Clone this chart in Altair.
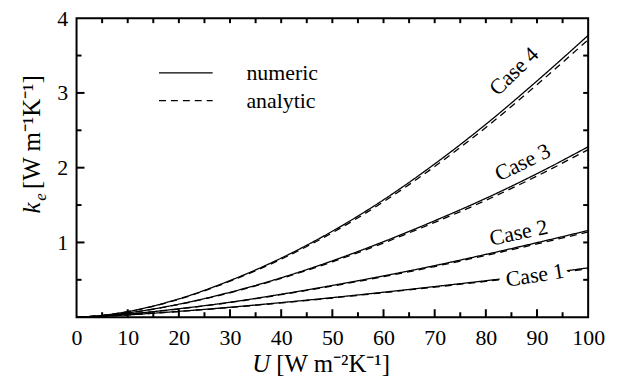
import altair as alt
import pandas as pd

FONT = "'Liberation Serif', 'Times New Roman', Times, serif"
W, H = 515, 301

# ---- data ----
u_values = [0, 5, 10, 20, 30, 40, 50, 60, 70, 80, 90, 100]
case_names = ["Case 1", "Case 2", "Case 3", "Case 4"]

numeric_case1 = [0, 0.012, 0.031, 0.078, 0.133, 0.195, 0.262, 0.334, 0.410, 0.488, 0.570, 0.660]
numeric_case2 = [0, 0.015, 0.041, 0.113, 0.200, 0.307, 0.425, 0.552, 0.690, 0.840, 0.997, 1.160]
numeric_case3 = [0, 0.020, 0.057, 0.174, 0.333, 0.527, 0.754, 1.010, 1.290, 1.590, 1.920, 2.280]
numeric_case4 = [0, 0.023, 0.075, 0.245, 0.490, 0.790, 1.150, 1.570, 2.050, 2.580, 3.160, 3.770]

analytic_case1 = [0, 0.012, 0.030, 0.076, 0.130, 0.191, 0.257, 0.328, 0.402, 0.479, 0.560, 0.648]
analytic_case2 = [0, 0.015, 0.040, 0.110, 0.196, 0.301, 0.417, 0.542, 0.678, 0.826, 0.980, 1.140]
analytic_case3 = [0, 0.020, 0.056, 0.170, 0.327, 0.518, 0.741, 0.993, 1.268, 1.563, 1.888, 2.242]
analytic_case4 = [0, 0.023, 0.073, 0.240, 0.481, 0.776, 1.130, 1.544, 2.016, 2.538, 3.110, 3.712]

label_u = [89.6, 86.4, 87.2, 85.5]
label_k = [0.56, 1.13, 2.07, 3.29]
label_angle = [351, 348, 334, 316]

x_major_ticks = [10, 20, 30, 40, 50, 60, 70, 80, 90]
x_minor_ticks = [5, 15, 25, 35, 45, 55, 65, 75, 85, 95]
x_label_values = [0, 10, 20, 30, 40, 50, 60, 70, 80, 90, 100]
y_major_ticks = [1, 2, 3]
y_minor_ticks = [0.5, 1.5, 2.5, 3.5]
y_label_values = [1, 2, 3, 4]

kinds = ["numeric", "analytic"]

# ---- tables ----
numeric = [numeric_case1, numeric_case2, numeric_case3, numeric_case4]
analytic = [analytic_case1, analytic_case2, analytic_case3, analytic_case4]
rows = []
for name, num, ana in zip(case_names, numeric, analytic):
    for u, a, b in zip(u_values, num, ana):
        rows.append({"U": u, "k": a, "case": name, "kind": "numeric"})
        rows.append({"U": u, "k": b, "case": name, "kind": "analytic"})
df = pd.DataFrame(rows)
labels_df = pd.DataFrame({"case": case_names, "U": label_u, "k": label_k, "angle": label_angle})

xscale = alt.Scale(domain=[0, 100], nice=False, zero=False)
yscale = alt.Scale(domain=[0, 4], nice=False, zero=False)

x_axis = alt.Axis(
    orient="bottom", values=x_label_values, ticks=False, domain=False, grid=False,
    title=None, labelFont=FONT, labelFontSize=22, labelColor="black",
    labelPadding=10, labelFlush=False, labelOverlap=False,
)
y_axis = alt.Axis(
    orient="left", values=y_label_values, ticks=False, domain=False, grid=False,
    title=None, labelFont=FONT, labelFontSize=22, labelColor="black",
    labelPadding=9, labelOverlap=False,
)

dash_scale = alt.Scale(domain=kinds, range=[[1, 0], [7, 5]])
legend = alt.Legend(
    orient="none", legendX=99, legendY=44, title=None, direction="vertical",
    symbolType="M-3,0H3", symbolSize=324, symbolStrokeWidth=1.3,
    symbolStrokeColor="black", labelFont=FONT, labelFontSize=22,
    labelColor="black", labelOffset=50, rowPadding=6, padding=0,
)

numeric_layer = alt.Chart(df[df.kind == "numeric"]).mark_line(
    color="black", strokeWidth=1.3, interpolate="monotone"
).encode(
    x=alt.X("U:Q", scale=xscale, axis=x_axis),
    y=alt.Y("k:Q", scale=yscale, axis=y_axis),
    detail="case:N",
    strokeDash=alt.StrokeDash("kind:N", scale=dash_scale, legend=legend),
)

analytic_layer = alt.Chart(df[df.kind == "analytic"]).mark_line(
    color="black", strokeWidth=1.3, interpolate="monotone"
).encode(
    x=alt.X("U:Q", scale=xscale, axis=None),
    y=alt.Y("k:Q", scale=yscale, axis=None),
    detail="case:N",
    strokeDash=alt.StrokeDash("kind:N", scale=dash_scale, legend=legend),
)

halo_layer = alt.Chart(labels_df[labels_df.case == "Case 1"]).mark_text(
    font=FONT, fontSize=22, color="white", stroke="white", strokeWidth=14,
    strokeJoin="round", align="center", baseline="middle",
).encode(
    x=alt.X("U:Q", scale=xscale, axis=None),
    y=alt.Y("k:Q", scale=yscale, axis=None),
    text="case:N",
    angle=alt.Angle("angle:Q", scale=None),
)

text_layer = alt.Chart(labels_df).mark_text(
    font=FONT, fontSize=22, color="black", align="center", baseline="middle",
).encode(
    x=alt.X("U:Q", scale=xscale, axis=None),
    y=alt.Y("k:Q", scale=yscale, axis=None),
    text="case:N",
    angle=alt.Angle("angle:Q", scale=None),
)


# inward-pointing tick marks on all four sides
def x_ticks(values, length, at_top):
    pos = length / 2 if at_top else H - length / 2
    return alt.Chart(pd.DataFrame({"v": values})).mark_tick(
        orient="vertical", size=length, thickness=2, color="black", opacity=1
    ).encode(x=alt.X("v:Q", scale=xscale, axis=None), y=alt.value(pos))


def y_ticks(values, length, at_right):
    pos = W - length / 2 if at_right else length / 2
    return alt.Chart(pd.DataFrame({"v": values})).mark_tick(
        orient="horizontal", size=length, thickness=2, color="black", opacity=1
    ).encode(y=alt.Y("v:Q", scale=yscale, axis=None), x=alt.value(pos))


ticks = [
    x_ticks(x_major_ticks, 8, False), x_ticks(x_minor_ticks, 5, False),
    x_ticks(x_major_ticks, 5, True), x_ticks(x_minor_ticks, 5, True),
    y_ticks(y_major_ticks, 8, False), y_ticks(y_minor_ticks, 5, False),
    y_ticks(y_major_ticks, 5, True), y_ticks(y_minor_ticks, 5, True),
]


def title_piece(txt, px, py, size, italic=False, angle=0, align="center"):
    return alt.Chart(pd.DataFrame({"t": [txt]})).mark_text(
        font=FONT, fontSize=size, fontStyle="italic" if italic else "normal",
        align=align, baseline="middle", angle=angle, color="black",
    ).encode(x=alt.value(px), y=alt.value(py), text="t:N")


titles = [
    title_piece("U", 186, 348, 25, italic=True),
    title_piece("[W m\u207b\u00b2K\u207b\u00b9]", 201, 348, 25, align="left"),
    title_piece("k", -45, 191, 25, italic=True, angle=270),
    title_piece("e", -36, 180, 17, italic=True, angle=270),
    title_piece("[W m\u207b\u00b9K\u207b\u00b9]", -45, 172, 25, angle=270, align="left"),
]

chart = alt.layer(
    numeric_layer, analytic_layer, halo_layer, text_layer, *ticks, *titles
).resolve_axis(
    x="independent", y="independent"
).properties(
    width=W, height=H,
    padding={"left": 69, "top": 9, "right": 25, "bottom": 65},
    autosize=alt.AutoSizeParams(type="none"),
).configure_view(stroke="black", strokeWidth=2)

chart.save("out.html", embed_options={"renderer": "svg", "actions": False})
